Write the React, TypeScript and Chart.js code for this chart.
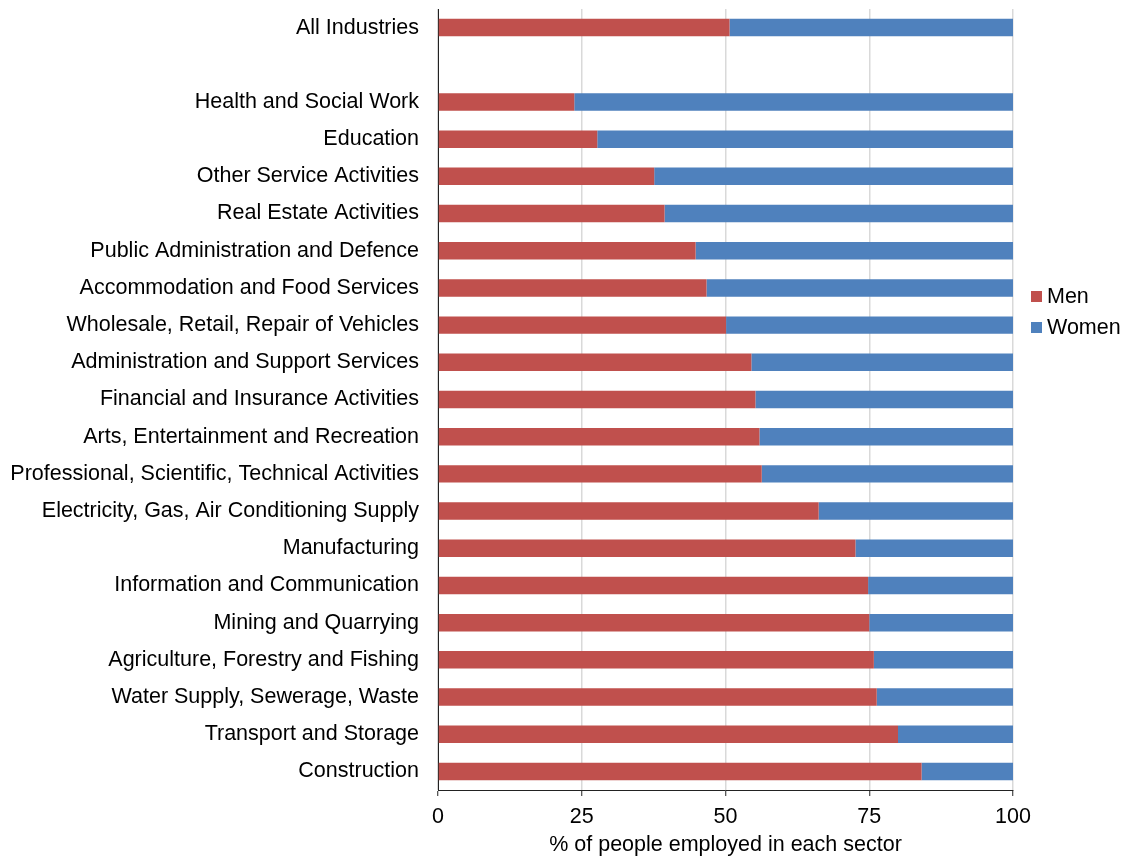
import React, { useEffect, useRef } from "react";
import { Chart, registerables } from "chart.js";

Chart.register(...registerables);

const categories: string[] = [
  "All Industries",
  "",
  "Health and Social Work",
  "Education",
  "Other Service Activities",
  "Real Estate Activities",
  "Public Administration and Defence",
  "Accommodation and Food Services",
  "Wholesale, Retail, Repair of Vehicles",
  "Administration and Support Services",
  "Financial and Insurance Activities",
  "Arts, Entertainment and Recreation",
  "Professional, Scientific, Technical Activities",
  "Electricity, Gas, Air Conditioning Supply",
  "Manufacturing",
  "Information and Communication",
  "Mining and Quarrying",
  "Agriculture, Forestry and Fishing",
  "Water Supply, Sewerage, Waste",
  "Transport and Storage",
  "Construction",
];

const menShare: (number | null)[] = [
  50.7, null, 23.7, 27.7, 37.6, 39.4, 44.8, 46.7, 50.1, 54.5, 55.2, 55.9, 56.3,
  66.2, 72.6, 74.8, 75.0, 75.8, 76.3, 80.0, 84.1,
];

const womenShare: (number | null)[] = [
  49.3, null, 76.3, 72.3, 62.4, 60.6, 55.2, 53.3, 49.9, 45.5, 44.8, 44.1, 43.7,
  33.8, 27.4, 25.2, 25.0, 24.2, 23.7, 20.0, 15.9,
];

const xTicks: number[] = [0, 25, 50, 75, 100];

const FONT = "'Liberation Sans', Arial, Helvetica, sans-serif";
const FONT_SIZE = 21.5;
const MEN_COLOR = "#C0504D";
const WOMEN_COLOR = "#4F81BD";

// Vertical legend drawn beside the plot, to the right of the 100 tick.
const sideLegend = {
  id: "sideLegend",
  afterDraw(chart: Chart) {
    const ctx = chart.ctx;
    const area = chart.chartArea;
    const x = area.right + 18;
    const startY = 296;
    const step = 31;
    ctx.save();
    ctx.font = `${FONT_SIZE}px ${FONT}`;
    ctx.textBaseline = "middle";
    ctx.textAlign = "left";
    chart.data.datasets.forEach((ds, i) => {
      const y = startY + i * step;
      ctx.fillStyle = ds.backgroundColor as string;
      ctx.fillRect(x, y - 5, 11, 11);
      ctx.fillStyle = "#000";
      ctx.fillText(ds.label as string, x + 16, y + 1);
    });
    ctx.restore();
  },
};

export default function App() {
  const canvasRef = useRef<HTMLCanvasElement | null>(null);

  useEffect(() => {
    if (!canvasRef.current) return;
    const chart = new Chart(canvasRef.current, {
      type: "bar",
      data: {
        labels: categories,
        datasets: [
          {
            label: "Men",
            data: menShare,
            backgroundColor: MEN_COLOR,
            borderWidth: 0,
            categoryPercentage: 1,
            barPercentage: 0.47,
          },
          {
            label: "Women",
            data: womenShare,
            backgroundColor: WOMEN_COLOR,
            borderWidth: 0,
            categoryPercentage: 1,
            barPercentage: 0.47,
          },
        ],
      },
      plugins: [sideLegend],
      options: {
        indexAxis: "y",
        responsive: false,
        animation: false,
        layout: { padding: { top: 9, right: 109, left: 0, bottom: 0 } },
        plugins: {
          legend: { display: false },
          tooltip: { enabled: false },
        },
        scales: {
          x: {
            stacked: true,
            min: 0,
            max: 100,
            afterBuildTicks: (scale: any) => {
              scale.ticks = xTicks.map((v) => ({ value: v }));
            },
            afterFit: (scale: any) => {
              scale.height = 68;
            },
            grid: {
              color: "#d9d9d9",
              lineWidth: 1.5,
              tickColor: "#222",
              tickLength: 6,
              tickWidth: 1,
            },
            border: { display: true, color: "#222", width: 1 },
            ticks: {
              color: "#000",
              font: { family: FONT, size: FONT_SIZE },
              padding: 8,
              maxRotation: 0,
            },
            title: {
              display: true,
              text: "% of people employed in each sector",
              color: "#000",
              font: { family: FONT, size: FONT_SIZE },
              padding: { top: 3, bottom: 0 },
            },
          },
          y: {
            stacked: true,
            afterFit: (scale: any) => {
              scale.width = 438;
              scale.paddingTop = 0;
              scale.paddingBottom = 0;
            },
            grid: { display: false, drawTicks: false },
            border: { display: true, color: "#222", width: 1 },
            ticks: {
              color: "#000",
              font: { family: FONT, size: FONT_SIZE },
              padding: 19,
              autoSkip: false,
            },
          },
        },
      },
    });
    return () => chart.destroy();
  }, []);

  return (
    <div style={{ position: "fixed", left: 0, top: 0, width: 1122, height: 858, background: "#fff" }}>
      <canvas ref={canvasRef} width={1122} height={858} />
    </div>
  );
}
